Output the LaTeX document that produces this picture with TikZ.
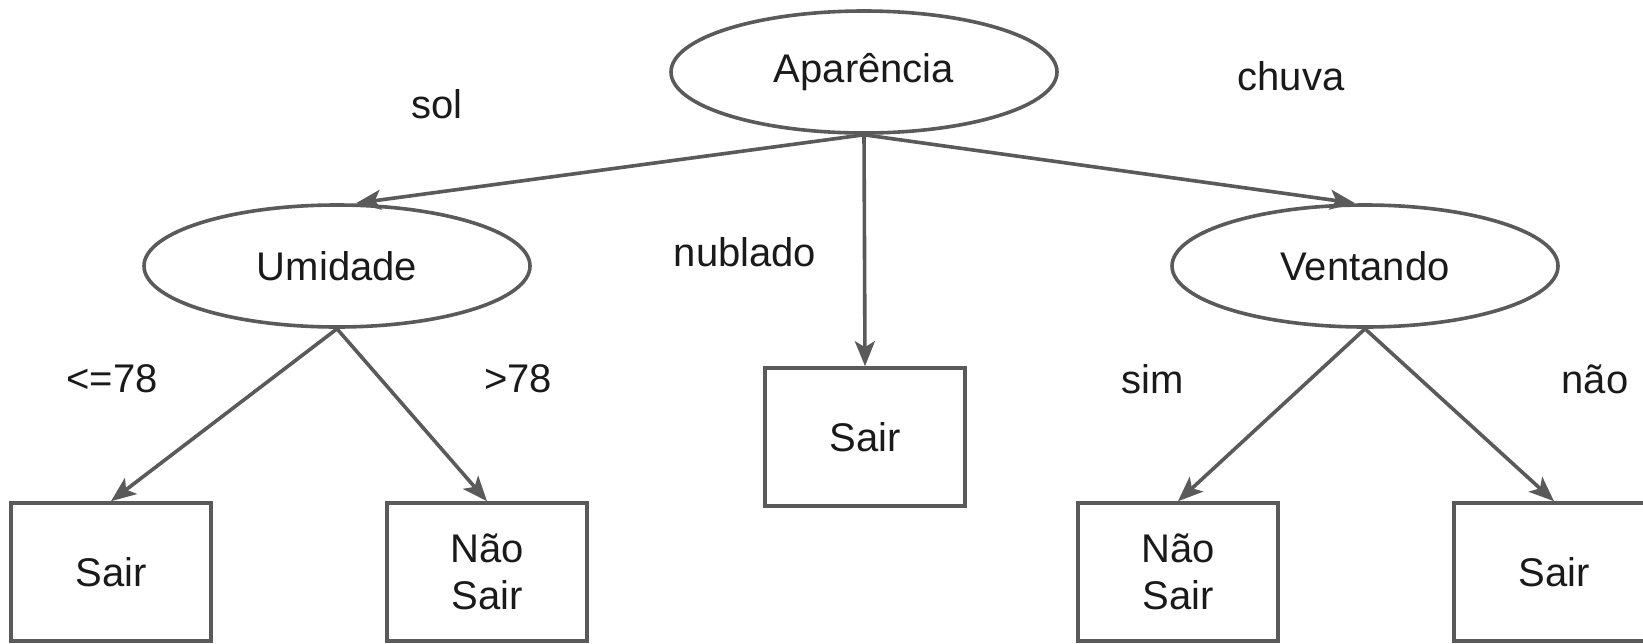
\documentclass[tikz,border=0pt]{standalone}
\usepackage{fontspec}
\setmainfont{Liberation Sans}
\usetikzlibrary{arrows.meta,shapes.geometric}
\definecolor{linegray}{HTML}{5A5A5A}
\definecolor{txt}{HTML}{1A1A1A}
\begin{document}
\begin{tikzpicture}[x=0.5pt,y=-0.5pt,
  every node/.style={font=\fontsize{20}{23.5}\selectfont, text=txt},
  attr/.style={ellipse, draw=linegray, line width=1.8pt, inner sep=0pt,
    minimum width=193pt, minimum height=61pt},
  leaf/.style={rectangle, draw=linegray, line width=1.8pt, inner sep=0pt,
    minimum width=100pt, minimum height=69pt, align=center},
  edge/.style={draw=linegray, line width=1.8pt,
    -{Stealth[length=12.5pt,width=10pt,inset=3pt]}},
  lbl/.style={inner sep=0pt}]
\useasboundingbox (0,0) rectangle (1643,643);
\fill[white] (0,0) rectangle (1643,643);
% nodes
\node[attr] (apar) at (864,72) {Aparência};
\node[attr] (umid) at (337,266) {Umidade};
\node[attr] (vent) at (1365,266) {Ventando};
\node[leaf] (mid) at (865,437) {Sair};
\node[leaf] (s1) at (111,572) {Sair};
\node[leaf] (ns2) at (487,572) {Não\\Sair};
\node[leaf] (ns4) at (1178,572) {Não\\Sair};
\node[leaf] (s5) at (1554,572) {Sair};
% labels
\node[lbl] (lsol) at (437,104) {sol};
\node[lbl] (lnub) at (745,252) {nublado};
\node[lbl] (lchu) at (1291,76) {chuva};
\node[lbl] (lle) at (112,379) {<=78};
\node[lbl] (lgt) at (518,379) {>78};
\node[lbl] (lsim) at (1153,379) {sim};
\node[lbl] (lnao) at (1595,379) {não};
% connectors
\draw[edge] (apar.south) -- ([xshift=9.5pt]umid.north);
\draw[edge] (apar.south) -- (mid.north);
\draw[edge] (apar.south) -- ([xshift=-5pt]vent.north);
\draw[edge] (umid.south) -- (s1.north);
\draw[edge] (umid.south) -- (ns2.north);
\draw[edge] (vent.south) -- (ns4.north);
\draw[edge] (vent.south) -- (s5.north);
\end{tikzpicture}
\end{document}
